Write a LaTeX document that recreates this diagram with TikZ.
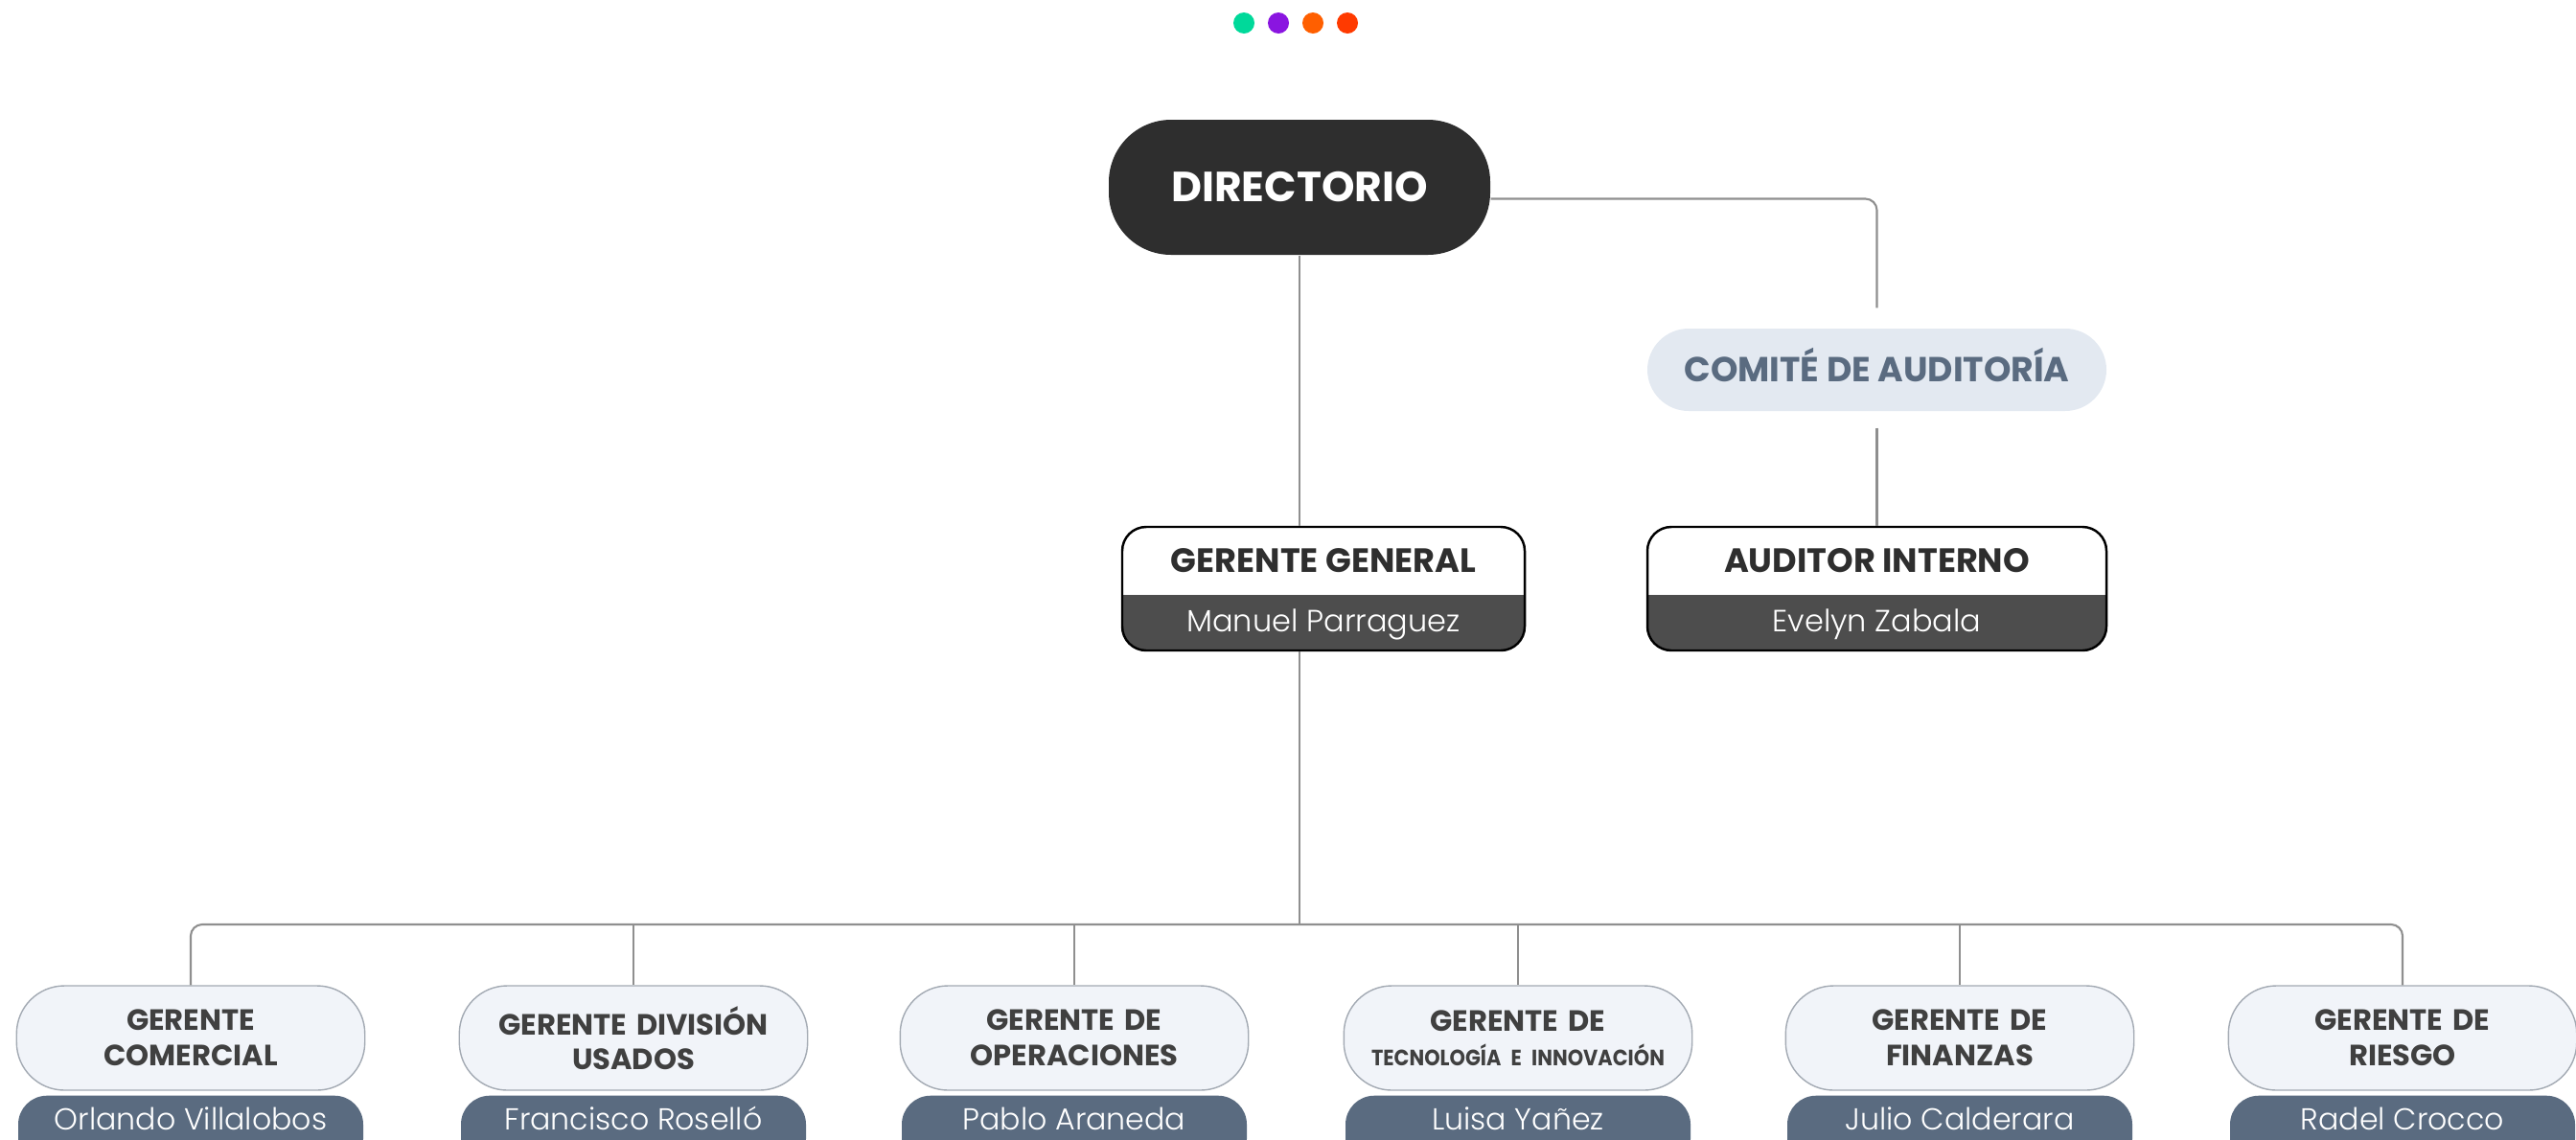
\documentclass[tikz,border=0pt]{standalone}
\usepackage{fontspec}
\setmainfont{Poppins}
\newfontfamily\lightfont{Poppins Light}
\newfontfamily\tightfont{Poppins}[WordSpace=0.5, FakeStretch=0.9]

\definecolor{boardgray}{HTML}{2E2E2E}
\definecolor{cardgray}{HTML}{4D4D4D}
\definecolor{slate}{HTML}{5A6B80}
\definecolor{mist}{HTML}{E3E9F1}
\definecolor{paleblue}{HTML}{F1F4F9}
\definecolor{rimgray}{HTML}{A3AAB3}
\definecolor{linkgray}{HTML}{8F8F8F}
\definecolor{inkgray}{HTML}{404040}
\definecolor{dotgreen}{HTML}{00D99A}
\definecolor{dotpurple}{HTML}{8A15E0}
\definecolor{dotorange}{HTML}{FF5F00}
\definecolor{dotred}{HTML}{FF3A00}

\tikzset{
    link/.style={draw=linkgray, line width=0.6pt, rounded corners=0.12cm},
    board/.style={fill=boardgray, text=white, font=\bfseries\fontsize{12.5}{15}\selectfont,
        minimum width=3.98cm, minimum height=1.41cm, rounded corners=0.65cm},
    committee/.style={fill=mist, text=slate, font=\bfseries\fontsize{10.3}{12}\selectfont,
        minimum width=4.79cm, minimum height=0.86cm, rounded corners=0.43cm,
        text height=0.7em, text depth=0pt},
    card/.style={draw=black, line width=0.7pt, fill=cardgray, minimum width=4.2cm,
        minimum height=1.29cm, rounded corners=0.25cm,
        path picture={\fill[white, sharp corners] (path picture bounding box.north west)
            rectangle ([yshift=-7.1mm]path picture bounding box.north east);}},
    cardtitle/.style={text=boardgray, font=\bfseries\fontsize{10}{12}\selectfont,
        text height=0.7em, text depth=0pt},
    cardname/.style={text=white, font=\lightfont\fontsize{9.1}{11}\selectfont,
        text height=0.7em, text depth=0pt},
    unit/.style={draw=rimgray, line width=0.4pt, fill=paleblue, text=inkgray,
        font=\bfseries\fontsize{8.7}{10.4}\selectfont, minimum width=3.6cm,
        minimum height=1.09cm, rounded corners=0.5cm, text width=3.4cm, align=center},
    pill/.style={fill=slate, minimum width=3.6cm, minimum height=0.75cm,
        rounded corners=0.3cm, anchor=north},
}

\begin{document}
\begin{tikzpicture}
    \useasboundingbox (0, 0) rectangle (26.88, -11.89);
    \path[clip] (0, 0) rectangle (26.88, -11.89);

    \foreach \c [count=\k] in {dotgreen, dotpurple, dotorange, dotred}
        \fill[\c] (12.62 + 0.36*\k, -0.24) circle (0.11);

    \node[board] (dir) at (13.56, -1.955) {DIRECTORIO};
    \node[committee] (com) at (19.585, -3.86) {COMITÉ DE AUDITORÍA};

    \node[card] (gg) at (13.81, -6.145) {};
    \node[cardtitle] (ggt) at ([yshift=-3.6mm]gg.north) {GERENTE GENERAL};
    \node[cardname] (ggn) at ([yshift=-9.8mm]gg.north) {Manuel Parraguez};

    \node[card, minimum width=4.79cm] (aud) at (19.585, -6.145) {};
    \node[cardtitle] (audt) at ([yshift=-3.6mm]aud.north) {AUDITOR INTERNO};
    \node[cardname] (audn) at ([yshift=-9.8mm]aud.north) {Evelyn Zabala};

    \foreach \i/\x/\first/\second/\who in {
        1/1.99/GERENTE/COMERCIAL/Orlando Villalobos,
        2/6.61/GERENTE DIVISIÓN/USADOS/Francisco Roselló,
        3/11.21/GERENTE DE/OPERACIONES/Pablo Araneda,
        4/15.84/GERENTE DE/{\tightfont\bfseries\fontsize{6.6}{8}\selectfont TECNOLOGÍA E INNOVACIÓN}/Luisa Yañez,
        5/20.45/GERENTE DE/FINANZAS/Julio Calderara,
        6/25.07/GERENTE DE/RIESGO/Radel Crocco}
    {
        \node[unit] (u\i) at (\x, -10.835) {\first\\\second};
        \node[pill] (p\i) at (\x, -11.43) {};
        \node[cardname, font=\lightfont\fontsize{9}{11}\selectfont] (w\i) at (\x, -11.67) {\who};
    }

    \coordinate (bus) at (13.56, -9.65);
    \draw[link] (dir.south) -- (dir.south |- gg.north);
    \draw[link] (dir.south |- gg.south) -- (bus);
    \draw[link] (u1.north) -- (u1.north |- bus) -- (u6.north |- bus) -- (u6.north);
    \foreach \i in {2, ..., 5}
        \draw[link] (u\i.north |- bus) -- (u\i.north);
    \draw[link, shorten >=2.1mm] ([yshift=-1.2mm]dir.east) -| (com.north);
    \draw[link, shorten <=1.7mm] (com.south) -- (aud.north);
\end{tikzpicture}
\end{document}
